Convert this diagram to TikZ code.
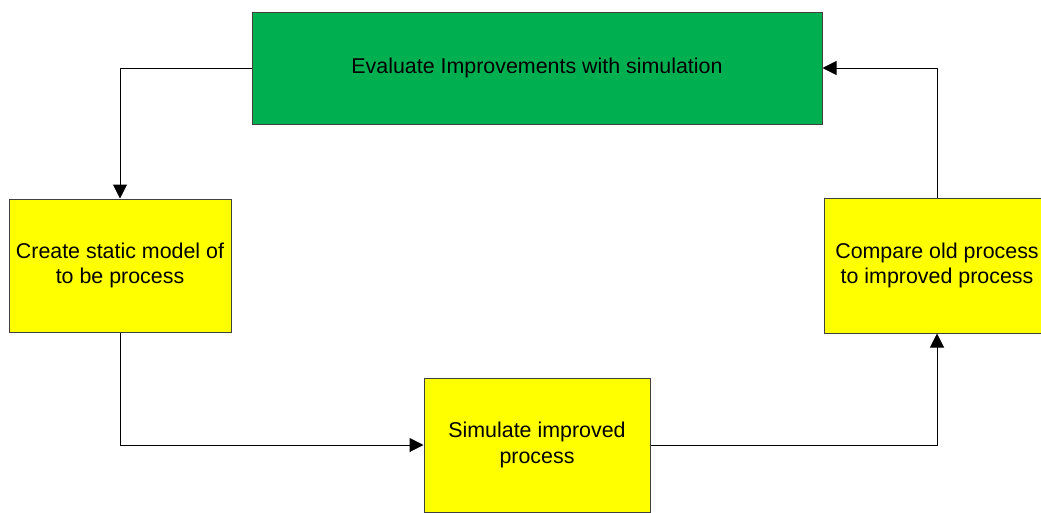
\documentclass[tikz,border=0pt]{standalone}
\usepackage{fontspec}
\setmainfont{Liberation Sans}
\usetikzlibrary{arrows.meta}
\definecolor{evalgreen}{HTML}{00B050}
\definecolor{stepyellow}{HTML}{FFFF00}
\definecolor{edgegray}{HTML}{404040}
\tikzset{
  procbox/.style={draw=edgegray, line width=1pt, inner sep=0pt, align=center,
    font=\fontsize{21.4}{25.5}\selectfont, text=black},
  yellowbox/.style={procbox, fill=stepyellow},
  greenbox/.style={procbox, fill=evalgreen},
  flow/.style={draw=black, line width=1pt, -{Triangle[length=14pt, width=14pt]}},
}
\begin{document}
\begin{tikzpicture}[x=1pt, y=-1pt]
  \useasboundingbox (0,0) rectangle (1041,512);
  \clip (0,0) rectangle (1041,512);
  % process steps
  \node[greenbox, minimum width=570pt, minimum height=112pt] (eval) at (537,68)
    {Evaluate Improvements with simulation};
  \node[yellowbox, minimum width=222pt, minimum height=133pt] (create) at (120,265.5)
    {Create static model of\\to be process};
  \node[yellowbox, minimum width=226pt, minimum height=134pt] (sim) at (537,445)
    {Simulate improved\\process};
  \node[yellowbox, minimum width=226pt, minimum height=135pt] (comp) at (937,265.5)
    {Compare old process\\to improved process};
  % cycle connectors
  \draw[flow] (eval.west) -| (create.north);
  \draw[flow] (create.south) |- (sim.west);
  \draw[flow] (sim.east) -| (comp.south);
  \draw[flow] (comp.north) |- (eval.east);
\end{tikzpicture}
\end{document}
